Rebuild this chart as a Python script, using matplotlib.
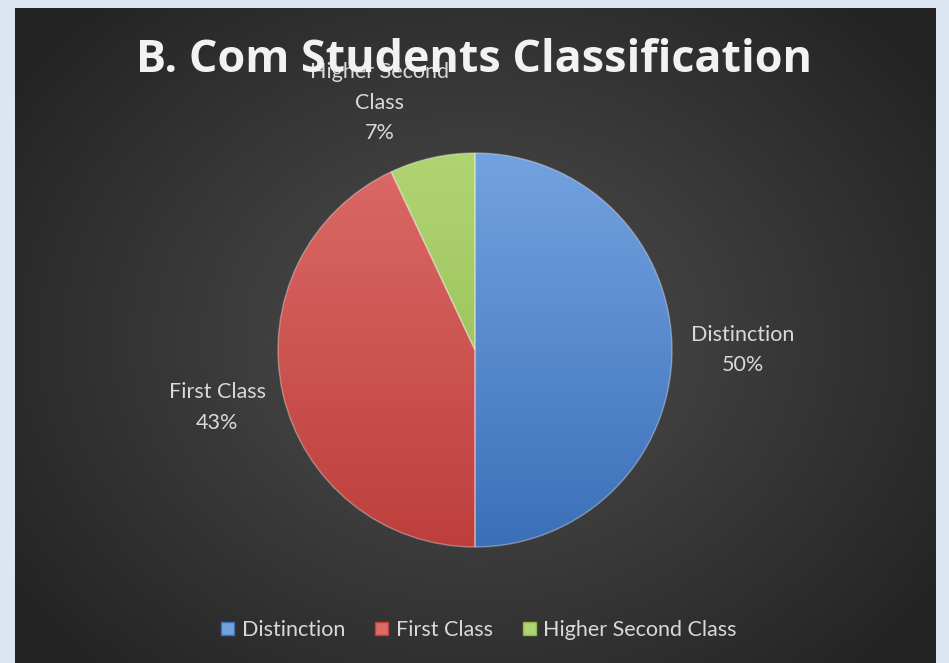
import numpy as np
import matplotlib
matplotlib.use('Agg')
import matplotlib.pyplot as plt
from matplotlib.colors import LinearSegmentedColormap

categories = ['Distinction', 'First Class', 'Higher Second Class']
shares = [50, 43, 7]
label_texts = ['Distinction\n50%', 'First Class\n43%', 'Higher Second\nClass\n7%']
colors_top = ['#73a2e0', '#dc6a67', '#b0d472']
colors_bot = ['#3b70b9', '#bd3f3c', '#8fb84c']

W, H = 949, 663
plt.rcParams['font.family'] = ['Lato', 'DejaVu Sans']

fig = plt.figure(figsize=(W / 100, H / 100), dpi=100, facecolor='#dce6f2')

# dark panel with radial gradient
bg = fig.add_axes([15 / W, 0, 920 / W, 655 / H])
yy, xx = np.mgrid[0:655, 0:920]
r = np.sqrt(((xx - 460) / 560.0) ** 2 + ((yy - 330) / 460.0) ** 2)
shade = np.clip(0.31 - 0.17 * r, 0.14, 0.31)
bg.imshow(np.dstack([shade] * 3), aspect='auto', interpolation='bilinear')
bg.axis('off')

ax = fig.add_axes([0, 0, 1, 1])
ax.patch.set_visible(False)

cx, cy, R = 475, H - 350, 197
wedges, _ = ax.pie(shares, center=(cx, cy), radius=R, startangle=90,
                   counterclock=False, frame=True,
                   wedgeprops=dict(edgecolor=(1, 1, 1, 0.35), linewidth=1.0))
ax.set_xlim(0, W)
ax.set_ylim(0, H)
ax.set_aspect('equal')
ax.axis('off')

for w, ct, cb in zip(wedges, colors_top, colors_bot):
    cmap = LinearSegmentedColormap.from_list('g', [cb, ct])
    grad = np.linspace(0, 1, 256).reshape(-1, 1)
    im = ax.imshow(grad, cmap=cmap, origin='lower', aspect='auto',
                   extent=(cx - R, cx + R, cy - R, cy + R), zorder=1)
    im.set_clip_path(w)
    w.set_facecolor('none')
    w.set_zorder(2)

# data labels placed around the pie
label_dist = [1.36, 1.34, 1.345]
label_shift = [0, 0, 8.5]
for w, txt, d, s in zip(wedges, label_texts, label_dist, label_shift):
    ang = np.deg2rad((w.theta1 + w.theta2) / 2 + s)
    ax.text(cx + d * R * np.cos(ang), cy + d * R * np.sin(ang), txt,
            ha='center', va='center', color='#d9d9d9', fontsize=15.5,
            linespacing=1.65, zorder=3)

ax.text(W / 2, H - 61, 'B. Com Students Classification', ha='center',
        va='center', color='#f2f2f2', fontsize=32.3, fontweight='bold',
        family=['Open Sans', 'DejaVu Sans'], zorder=5)

handles = [plt.Rectangle((0, 0), 1, 1, facecolor=c, edgecolor=c2)
           for c, c2 in zip(colors_top, colors_bot)]
leg = fig.legend(handles, categories, loc='center', bbox_to_anchor=(479 / W, 1 - 630 / H),
                 ncol=3, frameon=False, fontsize=15.5, labelcolor='#d9d9d9',
                 handlelength=0.6, handleheight=0.6, handletextpad=0.35,
                 columnspacing=1.4)

fig.savefig('out.png', dpi=100, facecolor=fig.get_facecolor())
